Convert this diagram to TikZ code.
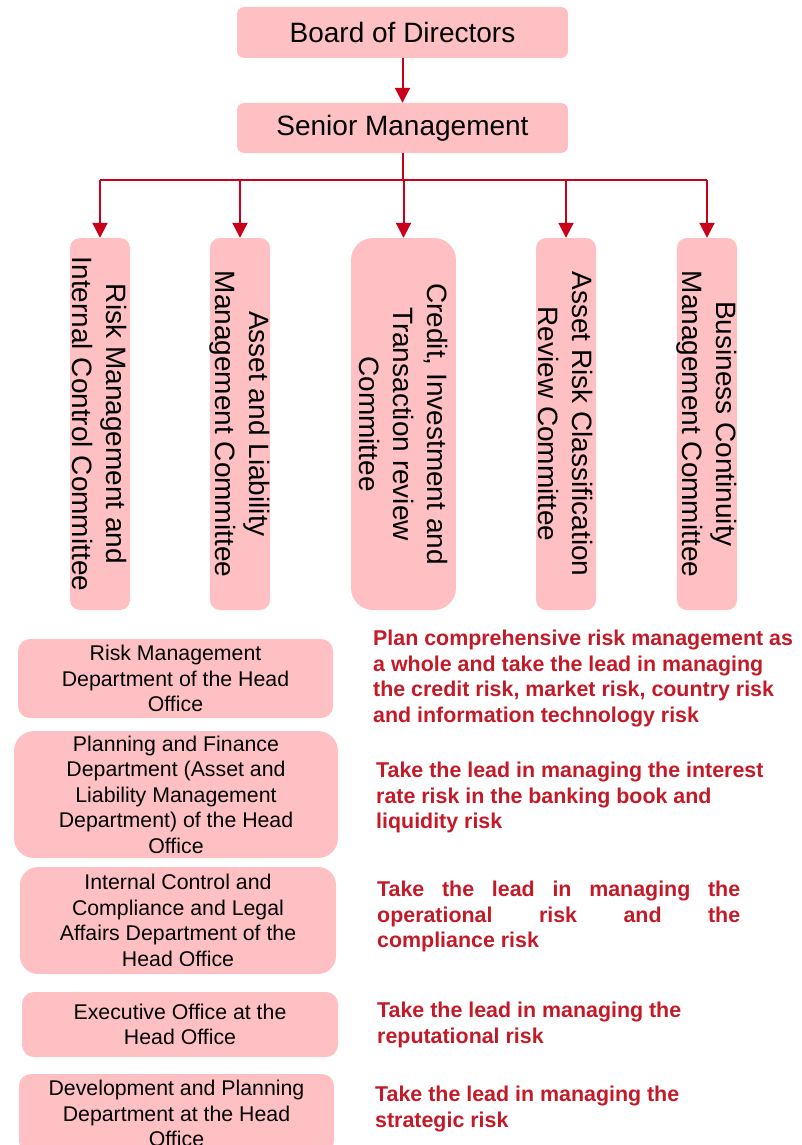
\documentclass[tikz,border=0pt]{standalone}
\usepackage{fontspec}
\setmainfont{Liberation Sans}
\usepackage{tikz}
\usetikzlibrary{arrows.meta}
\definecolor{boxpink}{HTML}{FFC0C4}
\definecolor{cline}{HTML}{C8001A}
\definecolor{cred}{HTML}{C41A28}
\tikzset{
  hbox/.style = {rounded corners=7pt, fill=boxpink, align=center, inner sep=0pt,
                 font=\fontsize{28}{34}\selectfont},
  vbox/.style = {rounded corners=10pt, fill=boxpink, align=center, inner sep=0pt,
                 rotate=-90, minimum width=372pt, font=\fontsize{28}{34}\selectfont},
  dept/.style = {rounded corners=12pt, fill=boxpink, align=center, inner sep=0pt,
                 font=\fontsize{21.3}{25.5}\selectfont},
  duty/.style = {anchor=north west, align=left, inner sep=0pt, text=cred,
                 font=\fontsize{21.4}{25.5}\selectfont\bfseries},
  ln/.style   = {draw=cline, line width=2pt},
  ar/.style   = {ln, -{Triangle[length=15pt, width=15pt]}},
}

\begin{document}
\begin{tikzpicture}[x=1pt, y=-1pt]
  \useasboundingbox (0,0) rectangle (801,1145);
  % board and senior management
  \node[hbox, minimum width=331pt, minimum height=51pt] (bod) at (402.5,32.5) {Board of Directors};
  \node[hbox, minimum width=331pt, minimum height=50pt] (sm) at (402.5,128) {Senior Management};
  \draw[ar] (bod) -- (sm);
  % committees
  \node[vbox, minimum height=60pt] (c1) at (100,424) {Risk Management and\\Internal Control Committee};
  \node[vbox, minimum height=60pt] (c2) at (240,424) {Asset and Liability\\Management Committee};
  \node[vbox, rounded corners=22pt, minimum height=105pt] (c3) at (403.5,424)
     {Credit, Investment and\\Transaction review\\Committee};
  \node[vbox, minimum height=60pt] (c4) at (566,424) {Asset Risk Classification\\Review Committee};
  \node[vbox, minimum height=60pt] (c5) at (707,424) {Business Continuity\\Management Committee};
  \coordinate (bus) at (402.5,180);
  \draw[ln] (sm) -- (bus);
  \draw[ln] (c1.west |- bus) -- (c5.west |- bus);
  \foreach \c in {c1,c2,c3,c4,c5}
    \draw[ar] (\c.west |- bus) -- (\c.west);
  % head office departments
  \node[dept, minimum width=315pt, minimum height=79pt] (d1) at (175.5,678.5)
     {Risk Management\\Department of the Head\\Office};
  \node[dept, rounded corners=20pt, minimum width=324pt, minimum height=127pt] (d2) at (176,794.5)
     {Planning and Finance\\Department (Asset and\\Liability Management\\Department) of the Head\\Office};
  \node[dept, rounded corners=18pt, minimum width=316pt, minimum height=107pt] (d3) at (178,920.5)
     {Internal Control and\\Compliance and Legal\\Affairs Department of the\\Head Office};
  \node[dept, minimum width=316pt, minimum height=65pt] (d4) at (180,1024.5)
     {Executive Office at the\\Head Office};
  \node[dept, minimum width=315pt, minimum height=79pt] (d5) at (176.5,1113.5)
     {Development and Planning\\Department at the Head\\Office};
  % duties
  \node[duty] (r1) at (373,630) {Plan comprehensive risk management as\\a whole and take the lead in managing\\the credit risk, market risk, country risk\\and information technology risk};
  \node[duty] (r2) at (376,762) {Take the lead in managing the interest\\rate risk in the banking book and\\liquidity risk};
  \node[duty] (r3) at (377,881) {\makebox[363pt][s]{Take the lead in managing the}\\
     \makebox[363pt][s]{operational risk and the}\\compliance risk};
  \node[duty] (r4) at (377,1002) {Take the lead in managing the\\reputational risk};
  \node[duty] (r5) at (375,1086) {Take the lead in managing the\\strategic risk};
\end{tikzpicture}
\end{document}
